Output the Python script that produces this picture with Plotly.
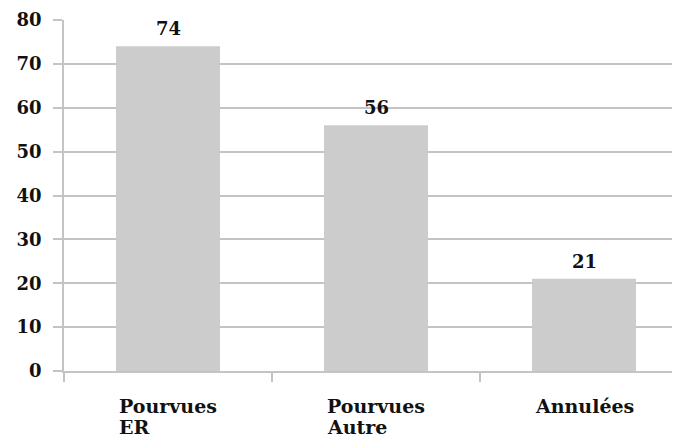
import plotly.graph_objects as go

categories = ["Pourvues ER", "Pourvues Autre", "Annulées"]
cat_line1 = ["Pourvues", "Pourvues", "Annulées"]
cat_line2 = ["ER", "Autre", ""]
values = [74, 56, 21]
y_ticks = [0, 10, 20, 30, 40, 50, 60, 70, 80]

serif = "Georgia, 'DejaVu Serif', serif"
grid = "#C4C4C4"
lab_font = dict(family=serif, size=19, color="#111", weight="bold")

fig = go.Figure(go.Bar(
    x=categories, y=values, width=0.5,
    marker=dict(color="#CCCCCC", line=dict(width=0)),
    hoverinfo="skip",
))

for c, v in zip(categories, values):
    fig.add_annotation(x=c, y=v, text=str(v), showarrow=False, yanchor="bottom",
                       yshift=5, font=dict(family=serif, size=18, color="#111", weight="bold"))

for c, l1, l2 in zip(categories, cat_line1, cat_line2):
    fig.add_annotation(x=c, y=0, text=l1, showarrow=False, yanchor="top",
                       xanchor="center", yshift=-22, font=lab_font)
    if l2:
        # second line, left-aligned with the first line's left edge
        fig.add_annotation(x=c, y=0, text=l2, showarrow=False, yanchor="top",
                           xanchor="left", xshift=-51.5, yshift=-43, font=lab_font)

# page body has an 8px default margin, so the figure is sized to fit the window
fig.update_layout(
    width=672, height=429,
    margin=dict(l=56, r=0, t=12, b=66),
    paper_bgcolor="white", plot_bgcolor="white",
    showlegend=False,
    xaxis=dict(type="category", range=[-0.5, 2.4615], tickson="boundaries", automargin=False,
               showticklabels=False, showgrid=False, ticks="outside", ticklen=9,
               tickcolor=grid, tickwidth=1.5, showline=True, linecolor=grid, linewidth=1.5),
    yaxis=dict(range=[0, 80], tickvals=y_ticks, showgrid=True, gridcolor=grid, gridwidth=1.5,
               ticks="outside", ticklen=9, tickcolor=grid, tickwidth=1.5, automargin=False,
               showline=True, linecolor=grid, linewidth=1.5, zeroline=False,
               ticklabelstandoff=8,
               tickfont=dict(family=serif, size=18, color="#111", weight="bold")),
)

fig.write_html("out.html")
